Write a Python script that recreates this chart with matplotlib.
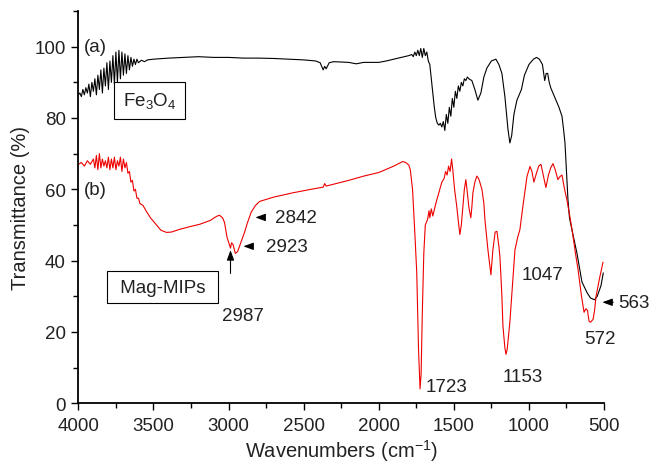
import matplotlib
matplotlib.use("Agg")
import matplotlib.pyplot as plt
from matplotlib.ticker import MultipleLocator

plt.rcParams['font.family'] = ['Liberation Sans', 'DejaVu Sans']
plt.rcParams['mathtext.fontset'] = 'custom'
plt.rcParams['mathtext.rm'] = 'Liberation Sans'
plt.rcParams['mathtext.default'] = 'regular'

# ---- data: Fe3O4 (a) ----
fe_wn = [4000, 3990, 3980, 3970, 3960, 3950, 3940, 3930, 3920, 3910, 3900, 3890, 3880, 3870, 3860,
         3850, 3840, 3830, 3820, 3810, 3800, 3790, 3780, 3770, 3760, 3750, 3740, 3730, 3720, 3710,
         3700, 3690, 3680, 3670, 3660, 3650, 3640, 3630, 3620, 3610, 3600, 3580, 3560, 3540, 3500,
         3400, 3300, 3200, 3100, 3000, 2900, 2800, 2700, 2600, 2500, 2420, 2390, 2370, 2360, 2350,
         2330, 2300, 2200, 2150, 2100, 2000, 1950, 1900, 1850, 1800, 1780, 1770, 1760, 1750, 1740,
         1730, 1720, 1710, 1700, 1690, 1680, 1670, 1660, 1650, 1640, 1630, 1620, 1610, 1600, 1590,
         1580, 1570, 1560, 1550, 1540, 1530, 1520, 1510, 1500, 1490, 1480, 1470, 1460, 1450, 1440,
         1430, 1420, 1410, 1400, 1380, 1360, 1340, 1320, 1300, 1280, 1250, 1220, 1200, 1180, 1160,
         1140, 1127, 1115, 1100, 1080, 1065, 1050, 1030, 1000, 970, 950, 930, 910, 895, 885,
         875, 865, 855, 840, 820, 800, 780, 770, 760, 750, 740, 730, 713, 680, 647,
         613, 590, 563, 545, 520, 505]
fe_t = [86.5, 87, 86, 88, 86.5, 88.5, 87, 89.5, 86, 90, 87.5, 91, 86.5, 92, 88,
        93.5, 87, 94, 89, 95.5, 88, 96, 90, 97.5, 89.5, 98.5, 90, 99, 91, 98.5,
        92, 98, 92.5, 97.5, 93.5, 97, 94.5, 96.5, 95, 96.5, 95.5, 96.2, 95.8, 96.3, 96.5,
        96.8, 97, 97.2, 97, 97, 96.8, 96.8, 96.7, 96.5, 96.3, 96, 95.5, 93.5, 94.5, 93.8,
        95.5, 95.8, 95.6, 95.2, 95.6, 95.6, 96, 96.5, 97, 97.5, 97.8, 97.2, 98.5, 97.5, 99,
        97.5, 99.5, 97, 99.5, 97.5, 98.5, 96, 95, 91, 87, 83, 80, 78.5, 78, 78.5,
        77.5, 79, 76.5, 81, 78.5, 83, 80.5, 85.5, 83, 87.5, 85.5, 89, 87.5, 90, 89,
        91, 90.5, 91.5, 91, 90.5, 88, 85, 87, 91.5, 94, 96, 96.5, 95, 92.5, 86,
        77, 73, 75, 81, 85, 86.5, 88, 92, 95, 96.5, 97, 96.5, 95, 90.5, 92.5,
        92.5, 90, 88.5, 87, 85, 83, 80.5, 77, 73, 65, 57, 52, 48.5, 42, 34,
        31, 29.5, 29, 30, 33, 36.5]

# ---- data: Mag-MIPs (b) ----
mip_wn = [4000, 3980, 3960, 3940, 3920, 3900, 3890, 3880, 3870, 3860, 3850, 3840, 3830, 3820, 3810,
          3800, 3790, 3780, 3770, 3760, 3750, 3740, 3730, 3720, 3710, 3700, 3690, 3680, 3670, 3660,
          3650, 3640, 3630, 3620, 3610, 3600, 3590, 3570, 3550, 3520, 3480, 3450, 3413, 3380, 3330,
          3250, 3190, 3120, 3080, 3060, 3040, 3027, 3010, 2995, 2987, 2980, 2970, 2955, 2940, 2927,
          2910, 2893, 2875, 2860, 2850, 2840, 2820, 2793, 2700, 2573, 2450, 2370, 2360, 2350, 2200,
          2100, 2000, 1900, 1840, 1820, 1800, 1790, 1775, 1760, 1747, 1735, 1725, 1718, 1710, 1700,
          1690, 1675, 1665, 1660, 1650, 1640, 1620, 1600, 1580, 1565, 1555, 1545, 1535, 1525, 1515,
          1507, 1495, 1480, 1470, 1460, 1450, 1440, 1430, 1420, 1410, 1400, 1387, 1380, 1373, 1360,
          1347, 1335, 1327, 1313, 1300, 1293, 1273, 1253, 1240, 1225, 1213, 1200, 1193, 1180, 1173,
          1160, 1153, 1145, 1127, 1110, 1093, 1075, 1060, 1050, 1040, 1025, 1013, 993, 980, 967,
          950, 935, 920, 905, 887, 870, 855, 840, 825, 807, 795, 780, 765, 747, 730,
          713, 690, 673, 650, 633, 620, 610, 600, 590, 573, 563, 553, 530, 507]
mip_t = [67, 67.5, 66.5, 68, 67, 68.5, 66, 69.5, 65.5, 70, 66, 68.5, 66.5, 68, 66,
         69, 65.5, 68.5, 66, 69, 65.5, 68, 66.5, 69, 65, 68.5, 66, 67.5, 64.5, 65,
         62, 62.5, 59.5, 60, 57.5, 57.5, 56, 55.5, 54, 52, 50, 48.5, 47.9, 48, 48.7,
         49.6, 50.2, 51.3, 52.4, 52.7, 52, 50.7, 46.5, 44.5, 43.5, 45, 44.5, 42, 42.5, 44,
         46, 48, 50.5, 52.3, 53.5, 54.2, 55.5, 56.6, 57.8, 59, 60, 60.6, 61.6, 60.9, 62.5,
         63.7, 64.7, 66.5, 67.8, 67.5, 66.8, 65.5, 60, 48, 36.7, 15, 4, 8, 25, 42,
         50, 51.5, 54, 52, 54.5, 52.5, 56, 59, 62, 63, 65, 64, 66.5, 65, 68.5,
         65.5, 60, 55, 51, 47.3, 50, 55, 60, 62.7, 59, 55, 52, 55, 59, 62,
         63.7, 63, 62, 60, 56, 51.5, 43, 36, 43, 48, 48.2, 44, 41, 30, 21.6,
         15.5, 13.7, 15, 22.7, 33, 43, 46.5, 48.7, 52, 55.3, 60, 63.6, 66.4, 65, 62,
         64.5, 66.5, 67, 64, 60.5, 64, 66, 67.2, 65.5, 62.7, 63.5, 64, 60.5, 57, 53,
         48.7, 42, 37.5, 30, 25.5, 26.5, 26, 23, 22.7, 23.5, 26, 30, 35, 39.5]

x_ticks = [4000, 3500, 3000, 2500, 2000, 1500, 1000, 500]
y_ticks = [0, 20, 40, 60, 80, 100]

txt = '#222222'
fs = 13.5
fsl = 14.5

fig = plt.figure(figsize=(6.53, 4.64), dpi=100)
ax = fig.add_axes([0.120, 0.129, 0.805, 0.845])

ax.plot(fe_wn, fe_t, color='black', lw=0.8)
ax.plot(mip_wn, mip_t, color='#ee0000', lw=0.8)

ax.set_xlim(4000, 500)
ax.set_ylim(0, 110)
ax.set_xticks(x_ticks)
ax.set_yticks(y_ticks)
ax.xaxis.set_minor_locator(MultipleLocator(250))
ax.yaxis.set_minor_locator(MultipleLocator(10))
ax.tick_params(which='major', length=5, width=1, labelsize=fs, labelcolor=txt)
ax.tick_params(axis='x', which='major', pad=5)
ax.tick_params(axis='y', which='major', pad=4)
ax.tick_params(which='minor', length=3.5, width=1)
for s in ['top', 'right']:
    ax.spines[s].set_visible(False)
for s in ['left', 'bottom']:
    ax.spines[s].set_linewidth(1.3)

ax.set_xlabel('Wavenumbers (cm$^{-1}$)', fontsize=fsl, color=txt, labelpad=2)
ax.set_ylabel('Transmittance (%)', fontsize=fsl, color=txt, labelpad=3)

ax.text(3960, 100, '(a)', fontsize=fs, color=txt, ha='left', va='center')
ax.text(3960, 60, '(b)', fontsize=fs, color=txt, ha='left', va='center')

ax.text(3527, 85, 'Fe$_3$O$_4$', fontsize=fs, color=txt, ha='center', va='center',
        bbox=dict(boxstyle='square,pad=0.45', fc='white', ec='black', lw=0.8))
ax.text(3440, 32.5, ' Mag-MIPs ', fontsize=fs, color=txt, ha='center', va='center',
        bbox=dict(boxstyle='square,pad=0.4', fc='white', ec='black', lw=0.8))

arrow = dict(arrowstyle='-|>,head_length=0.6,head_width=0.22', color='black', lw=0.8)
ax.annotate('', xy=(2987, 43.7), xytext=(2987, 35.6), arrowprops=arrow)
ax.text(2907, 24.6, '2987', fontsize=fs, color=txt, ha='center', va='center')
ax.annotate('', xy=(2840, 52.1), xytext=(2745, 52.1), arrowprops=arrow)
ax.text(2690, 52.1, '2842', fontsize=fs, color=txt, ha='left', va='center')
ax.annotate('', xy=(2920, 44), xytext=(2820, 44), arrowprops=arrow)
ax.text(2750, 44, '2923', fontsize=fs, color=txt, ha='left', va='center')
ax.text(1690, 4.8, '1723', fontsize=fs, color=txt, ha='left', va='center')
ax.text(1040, 7.6, '1153', fontsize=fs, color=txt, ha='center', va='center')
ax.text(907, 36, '1047', fontsize=fs, color=txt, ha='center', va='center')
ax.text(527, 18, '572', fontsize=fs, color=txt, ha='center', va='center')
ax.annotate('', xy=(530, 28.3), xytext=(420, 28.3), arrowprops=arrow, annotation_clip=False)
ax.text(405, 28.3, '563', fontsize=fs, color=txt, ha='left', va='center', clip_on=False)

fig.savefig('out.png', dpi=100)
